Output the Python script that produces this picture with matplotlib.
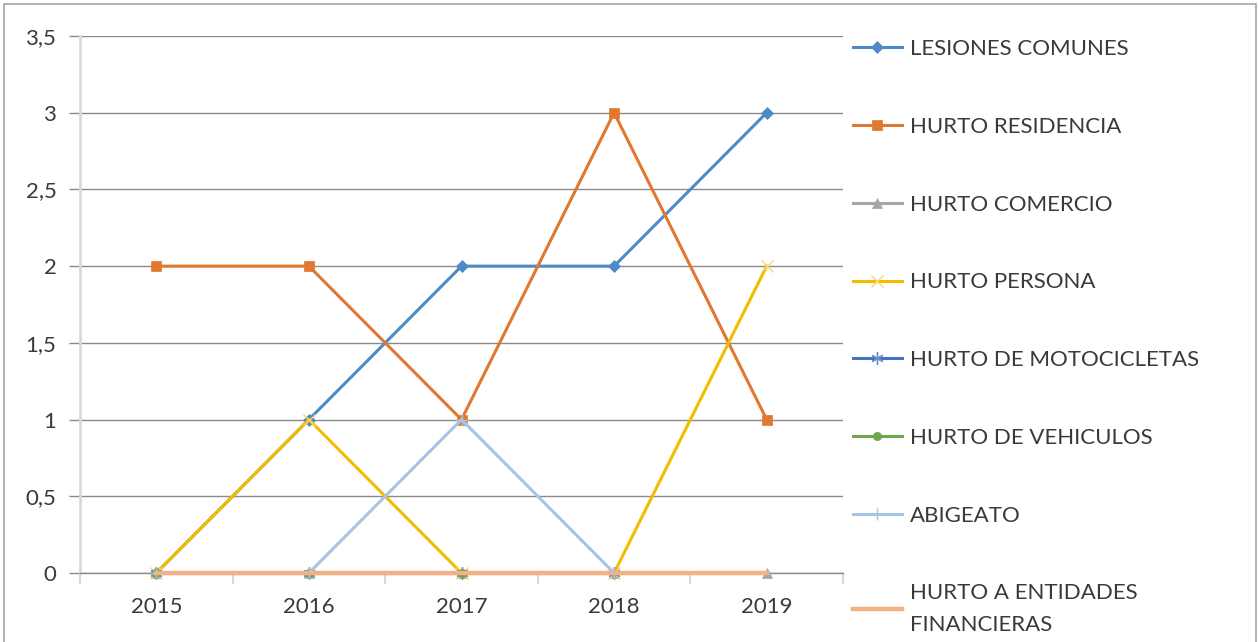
#!/usr/bin/env python3
"""Excel-style line chart: delitos por año 2015-2019."""
import matplotlib
matplotlib.use("Agg")
import matplotlib.pyplot as plt
from matplotlib.patches import Rectangle
from matplotlib.ticker import FuncFormatter

plt.rcParams["font.family"] = ["Lato", "DejaVu Sans"]

nan = float("nan")
years = ["2015", "2016", "2017", "2018", "2019"]

lesiones_comunes = [0, 1, 2, 2, 3]
hurto_residencia = [2, 2, 1, 3, 1]
hurto_comercio = [0, 0, 0, 0, 0]
hurto_persona = [0, 1, 0, 0, 2]
hurto_motocicletas = [0, 0, 0, 0, nan]
hurto_vehiculos = [0, 0, 0, nan, nan]
abigeato = [0, 0, 1, 0, nan]
hurto_entidades = [0, 0, 0, 0, 0]

series = [
    ("LESIONES COMUNES", lesiones_comunes),
    ("HURTO RESIDENCIA", hurto_residencia),
    ("HURTO COMERCIO", hurto_comercio),
    ("HURTO PERSONA", hurto_persona),
    ("HURTO DE MOTOCICLETAS", hurto_motocicletas),
    ("HURTO DE VEHICULOS", hurto_vehiculos),
    ("ABIGEATO", abigeato),
    ("HURTO A ENTIDADES\nFINANCIERAS", hurto_entidades),
]

# line colour, marker, marker size, marker face, marker edge width
STYLES = [
    ("#4E8AC8", "D", 6, "#4E8AC8", 0.5),
    ("#E0782F", "s", 7, "#E0782F", 0.5),
    ("#A5A5A5", "^", 7, "#A5A5A5", 0.5),
    ("#F2BC00", "x", 8, "#F8D66A", 1.0),
    ("#4472C4", (6, 2, 0), 9, "#6D8FD0", 1.0),
    ("#6FA84A", "o", 6, "#6FA84A", 0.5),
    ("#A6C4E6", "+", 9, "#A6C4E6", 1.0),
    ("#F4B183", None, 0, "#F4B183", 0.5),
]

TEXT = "#3A3A3A"
FS = 16

fig = plt.figure(figsize=(12.59, 6.42), dpi=100)
ax = fig.add_axes([80 / 1259, 1 - 573 / 642, 763 / 1259, 537 / 642])

x = list(range(len(years)))
for (label, vals), (col, mk, ms, mface, mew) in zip(series, STYLES):
    lw = 3.2 if mk is None else 2.2
    ax.plot(x, vals, color=col, lw=lw, marker=mk, markersize=ms,
            markerfacecolor=mface, markeredgecolor=mface, markeredgewidth=mew,
            label=label, solid_joinstyle="miter", clip_on=False, zorder=3)

ax.set_xlim(-0.5, len(years) - 0.5)
ax.set_ylim(0, 3.5)
ax.set_yticks([0, 0.5, 1, 1.5, 2, 2.5, 3, 3.5])
ax.yaxis.set_major_formatter(FuncFormatter(
    lambda v, p: (f"{v:g}").replace(".", ",")))
ax.set_xticks(x)
ax.set_xticklabels(years)
ax.set_xticks([i - 0.5 for i in range(len(years) + 1)], minor=True)

ax.grid(axis="y", color="#8A8A8A", lw=1.0)
ax.set_axisbelow(True)
for s in ("top", "right"):
    ax.spines[s].set_visible(False)
ax.spines["left"].set_color("#D9D9D9")
ax.spines["left"].set_linewidth(2.0)
ax.spines["bottom"].set_color("#8A8A8A")
ax.spines["bottom"].set_linewidth(1.0)

ax.tick_params(axis="y", length=8, width=1.0, color="#8A8A8A",
               labelsize=FS, labelcolor=TEXT, pad=9)
ax.tick_params(axis="x", which="major", length=0, labelsize=FS,
               labelcolor=TEXT, pad=17)
ax.tick_params(axis="x", which="minor", length=8, width=1.5, color="#D9D9D9")

leg = fig.legend(loc="upper left", bbox_to_anchor=(833 / 1259, 1 - 19 / 642),
                 frameon=False, fontsize=FS, labelspacing=2.6,
                 handlelength=2.2, handletextpad=0.36, labelcolor=TEXT)
for t in leg.get_texts():
    t.set_linespacing(1.7)

fig.patches.append(Rectangle((4 / 1259, -0.01), 1252 / 1259, 1.0 - 4 / 642 + 0.01,
                             transform=fig.transFigure, fill=False,
                             edgecolor="#A6A6A6", lw=1.2))

fig.savefig("out.png", dpi=100)
